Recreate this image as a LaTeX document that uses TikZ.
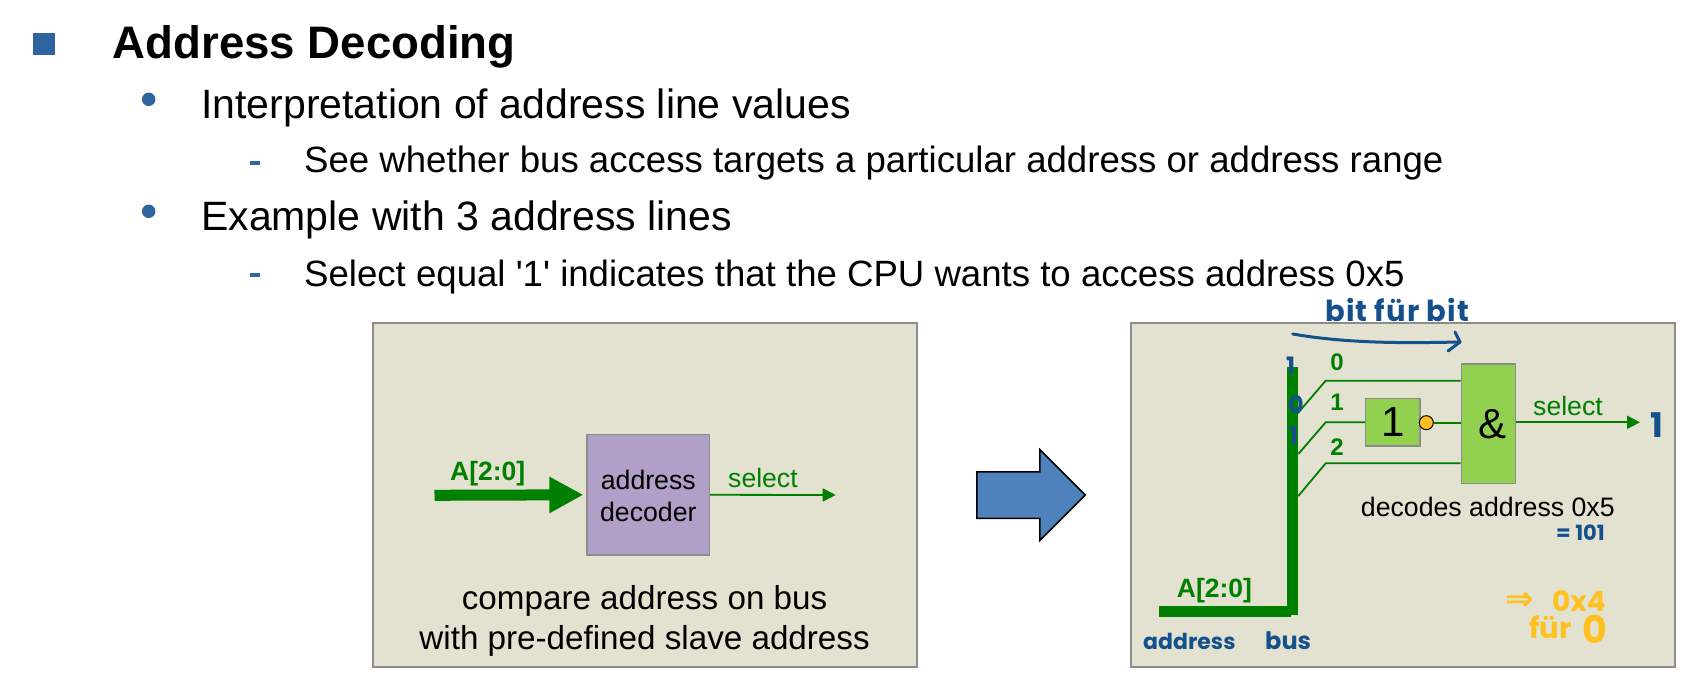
\documentclass[tikz,border=0pt]{standalone}
\usepackage{fontspec}
\setmainfont{Liberation Sans}
\newfontfamily\handfont{Poppins}
\newfontfamily\symfont{DejaVu Sans}
\usetikzlibrary{arrows.meta,shapes.arrows}

\definecolor{panelCol}{HTML}{E3E1CF}
\definecolor{frameCol}{HTML}{8C8C8C}
\definecolor{busCol}{HTML}{008000}
\definecolor{gateCol}{HTML}{92D050}
\definecolor{decCol}{HTML}{B09FC6}
\definecolor{bulletCol}{HTML}{2F64A0}
\definecolor{bigCol}{HTML}{4F81BD}
\definecolor{inkCol}{HTML}{14508C}
\definecolor{markerCol}{HTML}{FFC020}

\newcommand{\fsize}[1]{\fontsize{#1}{#1}\selectfont}

\tikzset{
    txt/.style={anchor=base west, inner sep=0pt},
    head/.style={txt, font=\fsize{45.6}\bfseries},
    itemtwo/.style={txt, font=\fsize{41}},
    itemthree/.style={txt, font=\fsize{36.6}},
    panel/.style={draw=frameCol, fill=panelCol, line width=2pt, inner sep=0pt},
    gate/.style={draw=frameCol, line width=1.5pt, inner sep=0pt, text=black},
    sig/.style={txt, text=busCol, font=\fsize{26.6}},
    sigbold/.style={txt, text=busCol, font=\fsize{26.5}\bfseries},
    bitnum/.style={anchor=base, inner sep=0pt, text=busCol, font=\fsize{24}\bfseries},
    wire/.style={draw=busCol, line width=1.8pt},
    bus/.style={draw=busCol, line width=11pt},
    ink/.style={anchor=base west, inner sep=0pt, text=inkCol},
    marker/.style={anchor=base west, inner sep=0pt, text=markerCol}
}

\begin{document}
\begin{tikzpicture}[x=1pt, y=-1pt]

    \useasboundingbox (0,0) rectangle (1706,687);

    % Text lines and their bullets
    \node[fill=bulletCol, minimum size=21.5pt, inner sep=0pt] (b0) at (44,44) {};
    \node[head] (t0) at (112.5,59) {Address Decoding};

    \node[circle, fill=bulletCol, minimum size=13.5pt, inner sep=0pt] (b1) at (148.7,99.3) {};
    \node[itemtwo] (t1) at (201,118.7) {Interpretation of address line values};
    \node[fill=bulletCol, minimum width=10.5pt, minimum height=4pt, inner sep=0pt] (d1) at (255,163) {};
    \node[itemthree] (t2) at (304,173) {See whether bus access targets a particular address or address range};

    \node[circle, fill=bulletCol, minimum size=13.5pt, inner sep=0pt] (b2) at (148.7,211.3) {};
    \node[itemtwo] (t3) at (201,230.3) {Example with 3 address lines};
    \node[fill=bulletCol, minimum width=10.5pt, minimum height=4pt, inner sep=0pt] (d2) at (255,274.7) {};
    \node[itemthree] (t4) at (304,286.5) {Select equal \textquotesingle 1\textquotesingle{} indicates that the CPU wants to access address 0x5};

    % Left panel
    \node[panel, minimum width=543.3pt, minimum height=343.4pt] (left) at (645.1,495) {};
    \node[gate, fill=decCol, minimum width=122.3pt, minimum height=120.3pt] (dec) at (648.3,494.8) {};
    \node[align=center, inner sep=0pt, font=\fontsize{26.7}{32}\selectfont] (decLabel) at (648.3,495.6) {address\\decoder};
    \coordinate (inStart) at (434.5,495.3);
    \coordinate (outEnd) at (835.7,495);
    \draw[bus, shorten >=3pt, -{Triangle[length=34pt,width=34pt]}] (inStart) -- (dec.west);
    \draw[wire, -{Triangle[length=13pt,width=13pt]}] (dec.east) -- (outEnd);
    \node[sigbold] (inLabel) at (450,480.5) {A[2:0]};
    \node[sig] (outLabel) at (728,487) {select};
    \node[align=center, inner sep=0pt, font=\fontsize{33.2}{40.3}\selectfont] (cmp) at (644.6,621) {compare address on bus\\with pre-defined slave address};

    % Big arrow between the panels
    \node[single arrow, draw=black, fill=bigCol, line width=1.5pt, inner xsep=0pt, inner ysep=22.5pt,
        minimum height=108.4pt, minimum width=89.3pt,
        single arrow head extend=22.2pt, single arrow head indent=0pt] (big) at (1019.4,495) {};

    % Right panel
    \node[panel, minimum width=544.3pt, minimum height=344pt] (right) at (1402.8,494.7) {};

    % Gates
    \node[gate, fill=gateCol, minimum width=54.3pt, minimum height=47.7pt, font=\fsize{42}] (notg) at (1392.8,422.2) {1};
    \node[gate, fill=gateCol, minimum width=54pt, minimum height=119.3pt, font=\fsize{42}] (andg) at (1488.3,423.7) {\hspace*{9pt}\&};
    \node[circle, draw=black, fill=markerCol, line width=1pt, minimum size=14pt, inner sep=0pt] (bub) at (1426.3,422.7) {};

    % Bus
    \coordinate (busA) at (1159,611.2);
    \coordinate (busB) at (1290.7,611.2);
    \coordinate (busC) at (1292.2,615);
    \coordinate (busD) at (1292.2,367.3);
    \draw[bus] (busA) -- (busB);
    \draw[bus] (busC) -- (busD);
    \node[sigbold] (busLabel) at (1176.7,597.5) {A[2:0]};

    % Address lines
    \coordinate (w0a) at (1297.7,413.3);
    \coordinate (w0b) at (1325.7,380.7);
    \coordinate (w1a) at (1298.3,454);
    \coordinate (w1b) at (1325.7,422.3);
    \coordinate (w2a) at (1298.3,496);
    \coordinate (w2b) at (1325.7,463.3);
    \draw[wire] (w0a) -- (w0b) -- (w0b -| andg.west);
    \draw[wire] (w1a) -- (w1b) -- (w1b -| notg.west);
    \draw[wire] (w2a) -- (w2b) -- (w2b -| andg.west);
    \draw[wire] (bub.east) -- (bub.east -| andg.west);
    \node[bitnum] (n0) at (1337,370.7) {0};
    \node[bitnum] (n1) at (1337,410) {1};
    \node[bitnum] (n2) at (1337,455) {2};

    % Output of the and gate
    \coordinate (selEnd) at (1640,422.3);
    \draw[wire, -{Triangle[length=13pt,width=13pt]}] (selEnd -| andg.east) -- (selEnd);
    \node[sig] (selLabel) at (1533,415.7) {select};
    \node[txt, font=\fsize{26.7}] (decodes) at (1360.7,516) {decodes address 0x5};

    % Handwritten notes, blue
    \node[ink, font=\handfont\bfseries\fsize{29}\addfontfeature{LetterSpace=4}] (hw0) at (1325,321) {bit für bit};
    \coordinate (swA) at (1292.7,334);
    \coordinate (swB) at (1460,342);
    \draw[draw=inkCol, line width=3pt, line cap=round, line join=round] (swA) .. controls (1350,344) and (1410,343) .. (swB);
    \coordinate (swC) at (1455,332);
    \coordinate (swD) at (1448,351);
    \draw[draw=inkCol, line width=3pt, line cap=round, line join=round] (swC) -- (swB) -- (swD);
    \node[ink, font=\handfont\bfseries\fsize{24}] (hw1) at (1286,374) {1};
    \node[ink, font=\handfont\bfseries\fsize{24}] (hw2) at (1288,413) {0};
    \node[ink, font=\handfont\bfseries\fsize{24}] (hw3) at (1289,444) {1};
    \node[ink, font=\handfont\bfseries\fsize{34}] (hw4) at (1650,437) {1};
    \node[ink, font=\handfont\bfseries\fsize{21}] (hw5) at (1556,540) {= 101};
    \node[ink, font=\handfont\bfseries\fsize{22}] (hw6) at (1143,649) {address};
    \node[ink, font=\handfont\bfseries\fsize{24}] (hw7) at (1265,649) {bus};

    % Handwritten notes, yellow
    \node[marker, font=\symfont\bfseries\fsize{34}] (hw8) at (1505,610) {⇒};
    \node[marker, font=\handfont\bfseries\fsize{28}] (hw9) at (1552,611) {0x4};
    \node[marker, font=\handfont\bfseries\fsize{29}] (hw10) at (1529,638) {für};
    \node[marker, font=\handfont\bfseries\fsize{38}] (hw11) at (1582,643) {0};

\end{tikzpicture}
\end{document}
